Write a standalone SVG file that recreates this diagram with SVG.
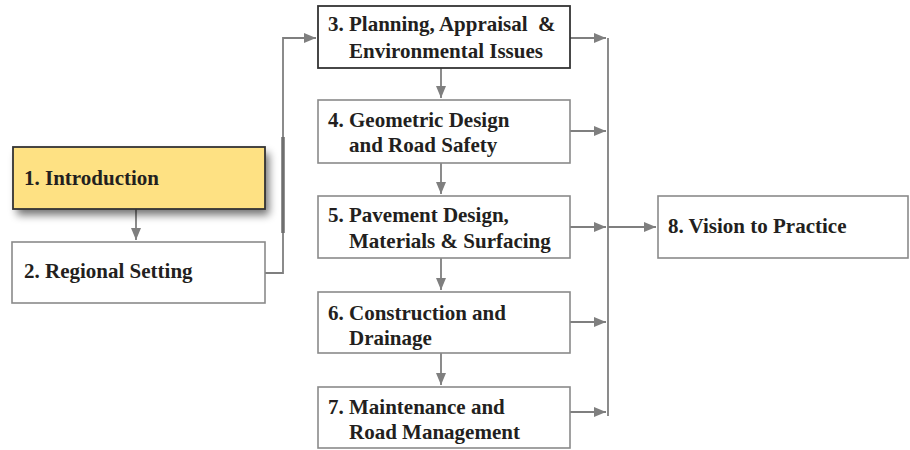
<svg xmlns="http://www.w3.org/2000/svg" width="910" height="450" viewBox="0 0 910 450">
<defs>
<style>
.box{fill:#fff;stroke:#8a8a8a;stroke-width:1.6}
.dark{stroke:#333;stroke-width:1.8}
.t{font-family:"Liberation Serif","Times New Roman",serif;font-weight:bold;font-size:21px;fill:#231f20;white-space:pre}
.c{fill:none;stroke:#7f7f7f;stroke-width:1.8}
</style>
<marker id="ah" viewBox="0 0 12 10" refX="12" refY="5" markerWidth="13" markerHeight="10" markerUnits="userSpaceOnUse" orient="auto">
<path d="M0,0 L12,5 L0,10 z" fill="#7f7f7f"/>
</marker>
<filter id="sh" x="-10%" y="-30%" width="130%" height="170%">
<feGaussianBlur stdDeviation="4"/>
</filter>
</defs>
<rect width="910" height="450" fill="#fff"/>
<g id="connectors">
<line class="c" x1="136" y1="209" x2="136" y2="240" marker-end="url(#ah)"/>
<polyline class="c" points="265,273 283,273 283,38 316,38" marker-end="url(#ah)"/>
<line x1="283" y1="137" x2="283" y2="233" stroke="#6f6f6f" stroke-width="3.5"/>
<line class="c" x1="441" y1="68" x2="441" y2="98" marker-end="url(#ah)"/>
<line class="c" x1="441" y1="163" x2="441" y2="194" marker-end="url(#ah)"/>
<line class="c" x1="441" y1="258" x2="441" y2="290" marker-end="url(#ah)"/>
<line class="c" x1="441" y1="353" x2="441" y2="385" marker-end="url(#ah)"/>
<line class="c" x1="608" y1="38" x2="608" y2="416"/>
<line class="c" x1="570" y1="38" x2="606" y2="38" marker-end="url(#ah)"/>
<line class="c" x1="570" y1="131" x2="606" y2="131" marker-end="url(#ah)"/>
<line class="c" x1="570" y1="227" x2="606" y2="227" marker-end="url(#ah)"/>
<line class="c" x1="570" y1="322" x2="606" y2="322" marker-end="url(#ah)"/>
<line class="c" x1="570" y1="412" x2="606" y2="412" marker-end="url(#ah)"/>
<line class="c" x1="608" y1="227" x2="656" y2="227" marker-end="url(#ah)"/>
</g>
<g id="n1">
<rect x="17" y="153" width="252" height="62" fill="#000" opacity="0.55" filter="url(#sh)"/>
<rect x="13" y="147" width="252" height="62" fill="#fee183" class="dark"/>
<text class="t" x="24" y="185">1. Introduction</text>
</g>
<g id="n2">
<rect class="box" x="12" y="242" width="253" height="61"/>
<text class="t" x="24" y="278">2. Regional Setting</text>
</g>
<g id="n3">
<rect class="box dark" x="318" y="6" width="252" height="62"/>
<text class="t" x="328" y="31" xml:space="preserve">3. Planning, Appraisal  &amp;</text>
<text class="t" x="349" y="58">Environmental Issues</text>
</g>
<g id="n4">
<rect class="box" x="318" y="100" width="252" height="63"/>
<text class="t" x="328" y="127">4. Geometric Design</text>
<text class="t" x="349" y="152">and Road Safety</text>
</g>
<g id="n5">
<rect class="box" x="318" y="196" width="252" height="62"/>
<text class="t" x="328" y="222">5. Pavement Design,</text>
<text class="t" x="349" y="248">Materials &amp; Surfacing</text>
</g>
<g id="n6">
<rect class="box" x="318" y="292" width="252" height="61"/>
<text class="t" x="328" y="320">6. Construction and</text>
<text class="t" x="349" y="345">Drainage</text>
</g>
<g id="n7">
<rect class="box" x="318" y="387" width="252" height="61"/>
<text class="t" x="328" y="414">7. Maintenance and</text>
<text class="t" x="349" y="439">Road Management</text>
</g>
<g id="n8">
<rect class="box" x="658" y="196" width="250" height="62"/>
<text class="t" x="668" y="233">8. Vision to Practice</text>
</g>
</svg>
